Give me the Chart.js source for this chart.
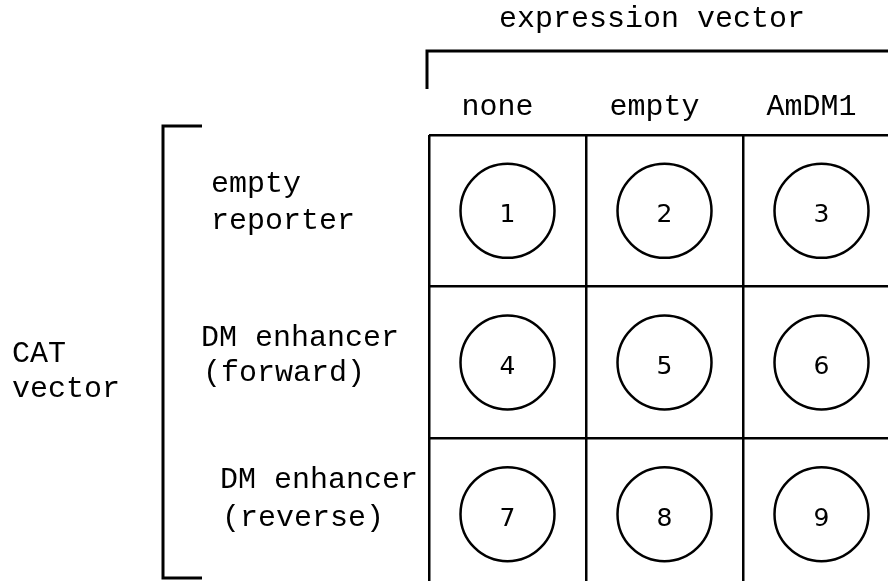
<!DOCTYPE html>
<html>
<head>
<meta charset="utf-8">
<script src="https://cdn.jsdelivr.net/npm/chart.js@4/dist/chart.umd.min.js"></script>
<style>
  html, body { margin: 0; padding: 0; background: #fff; overflow: hidden; }
  #wrap { width: 888px; height: 581px; overflow: hidden; position: relative; }
  #box { position: absolute; left: 0; top: 0; width: 902px; height: 590px; }
</style>
</head>
<body>
<div id="wrap"><div id="box"><canvas id="plate"></canvas></div></div>
<script>
// --- DATA ---
const colTitle = 'expression vector';
const rowTitle = ['CAT', 'vector'];
const columns = ['none', 'empty', 'AmDM1'];
const rows = [
  ['empty', 'reporter'],
  ['DM enhancer', '(forward)'],
  ['DM enhancer', '(reverse)']
];
const wellNumbers = [1, 2, 3, 4, 5, 6, 7, 8, 9];

// one point per well, centred in its cell
const wells = wellNumbers.map((n, i) => ({
  x: (i % columns.length) + 0.5,
  y: Math.floor(i / columns.length) + 0.5,
  n: n
}));

const MONO = '30px "Liberation Mono", "DejaVu Sans Mono", monospace';
const INK = '#000';

// --- LABELS, BRACKETS & WELL NUMBERS ---
const platePlugin = {
  id: 'plate',
  afterDraw(chart) {
    const { ctx, chartArea, scales: { x, y } } = chart;
    ctx.save();
    ctx.fillStyle = INK;
    ctx.strokeStyle = INK;

    // well numbers
    ctx.font = '25px "DejaVu Sans", sans-serif';
    ctx.textAlign = 'center';
    ctx.textBaseline = 'middle';
    wells.forEach(w => {
      ctx.fillText(String(w.n), x.getPixelForValue(w.x), y.getPixelForValue(w.y) + 5);
    });

    ctx.font = MONO;
    ctx.textBaseline = 'alphabetic';

    // column headers
    ctx.textAlign = 'center';
    columns.forEach((c, i) => {
      ctx.fillText(c, x.getPixelForValue(i + 0.5) - 10, chartArea.top - 20);
    });

    // expression vector title + bracket
    ctx.fillText(colTitle, 652, 27);
    ctx.lineWidth = 3;
    ctx.beginPath();
    ctx.moveTo(427, 89);
    ctx.lineTo(427, 51);
    ctx.lineTo(chart.width, 51);
    ctx.stroke();

    // row labels (two lines each, a little off-centre as in the original)
    ctx.textAlign = 'left';
    const rowLeft = [211, 201, 220];
    const rowUp = [19, 17, 26];
    const rowDown = [18, 18, 12];
    rows.forEach((r, i) => {
      const cy = y.getPixelForValue(i + 0.5);
      ctx.fillText(r[0], rowLeft[i], cy - rowUp[i]);
      ctx.fillText(r[1], rowLeft[i] + (i === 0 ? 0 : 2), cy + rowDown[i]);
    });

    // CAT vector title + bracket
    ctx.fillText(rowTitle[0], 12, 362);
    ctx.fillText(rowTitle[1], 12, 397);
    ctx.beginPath();
    ctx.moveTo(202, 126);
    ctx.lineTo(163, 126);
    ctx.lineTo(163, 578);
    ctx.lineTo(202, 578);
    ctx.stroke();

    ctx.restore();
  }
};

// --- CHART ---
new Chart(document.getElementById('plate'), {
  type: 'scatter',
  data: {
    datasets: [{
      data: wells,
      pointStyle: 'circle',
      pointRadius: 47,
      pointHoverRadius: 47,
      pointBorderWidth: 2.5,
      pointBorderColor: INK,
      pointBackgroundColor: 'rgba(0,0,0,0)'
    }]
  },
  options: {
    responsive: true,
    maintainAspectRatio: false,
    animation: false,
    devicePixelRatio: 1,
    layout: { autoPadding: false, padding: { left: 429, top: 135, right: 2, bottom: 0 } },
    plugins: { legend: { display: false }, tooltip: { enabled: false } },
    scales: {
      x: {
        type: 'linear', min: 0, max: columns.length,
        ticks: { stepSize: 1, display: false },
        grid: { color: INK, lineWidth: 2.5, drawTicks: false },
        border: { display: false }
      },
      y: {
        type: 'linear', min: 0, max: rows.length, reverse: true,
        ticks: { stepSize: 1, display: false },
        grid: { color: INK, lineWidth: 2.5, drawTicks: false },
        border: { display: false }
      }
    }
  },
  plugins: [platePlugin]
});
</script>
</body>
</html>
